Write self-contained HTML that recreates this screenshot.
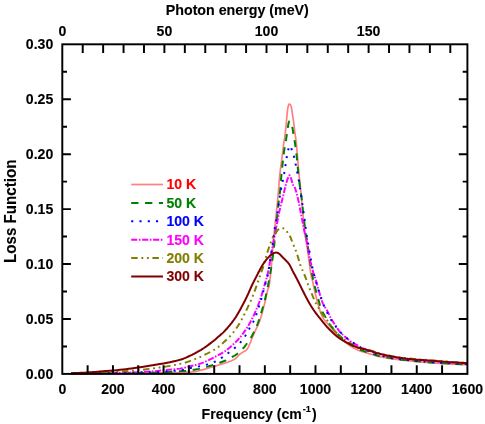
<!DOCTYPE html>
<html><head><meta charset="utf-8"><title>Loss Function</title>
<style>html,body{margin:0;padding:0;background:#fff;}svg{display:block;will-change:transform;}text{font-family:"Liberation Sans",sans-serif;font-weight:bold;fill:#000;stroke:#000;stroke-width:0.12px;}</style></head><body>
<svg width="485" height="424" viewBox="0 0 485 424">
<rect x="0" y="0" width="485" height="424" fill="#fff"/>
<g fill="none" stroke-linejoin="round">
<path d="M71.00 373.40 L80.06 373.36 L92.99 373.31 L108.10 373.26 L123.75 373.19 L138.27 373.10 L150.00 373.00 L159.05 372.89 L166.76 372.77 L173.35 372.64 L179.01 372.49 L183.96 372.31 L188.40 372.10 L191.99 371.86 L194.50 371.61 L196.30 371.32 L197.74 371.00 L199.19 370.63 L201.00 370.20 L203.13 369.69 L205.27 369.10 L207.43 368.46 L209.57 367.80 L211.70 367.14 L213.80 366.50 L215.91 365.88 L218.03 365.27 L220.14 364.66 L222.20 364.04 L224.16 363.42 L226.00 362.80 L227.72 362.18 L229.36 361.58 L230.91 360.97 L232.35 360.34 L233.69 359.69 L234.90 359.00 L235.96 358.23 L236.86 357.40 L237.64 356.53 L238.37 355.68 L239.07 354.89 L239.80 354.20 L240.56 353.62 L241.30 353.11 L242.03 352.67 L242.73 352.26 L243.39 351.88 L244.00 351.50 L244.55 351.18 L245.03 350.94 L245.48 350.73 L245.91 350.48 L246.34 350.12 L246.80 349.60 L247.27 348.91 L247.74 348.10 L248.22 347.19 L248.70 346.19 L249.19 345.12 L249.70 344.00 L250.23 342.79 L250.77 341.46 L251.32 340.06 L251.89 338.63 L252.45 337.23 L253.00 335.90 L253.56 334.60 L254.14 333.30 L254.72 332.02 L255.29 330.79 L255.82 329.64 L256.30 328.60 L256.71 327.73 L257.07 327.01 L257.40 326.38 L257.71 325.75 L258.04 325.05 L258.40 324.20 L258.78 323.26 L259.16 322.30 L259.55 321.27 L259.96 320.12 L260.41 318.78 L260.90 317.20 L261.45 315.32 L262.07 313.16 L262.71 310.81 L263.37 308.38 L264.00 305.94 L264.60 303.60 L265.17 301.22 L265.74 298.70 L266.29 296.18 L266.81 293.80 L267.29 291.69 L267.70 290.00 L268.03 288.92 L268.29 288.37 L268.50 288.11 L268.69 287.85 L268.88 287.33 L269.10 286.30 L269.35 284.69 L269.60 282.70 L269.86 280.46 L270.11 278.08 L270.36 275.69 L270.60 273.40 L270.82 271.30 L271.03 269.29 L271.24 267.27 L271.44 265.12 L271.66 262.74 L271.90 260.00 L272.16 256.76 L272.43 253.08 L272.72 249.16 L273.01 245.20 L273.31 241.41 L273.60 238.00 L273.89 235.03 L274.19 232.34 L274.49 229.83 L274.79 227.37 L275.09 224.83 L275.40 222.10 L275.72 219.13 L276.04 216.02 L276.38 212.83 L276.70 209.65 L277.01 206.55 L277.30 203.60 L277.57 200.81 L277.81 198.10 L278.05 195.48 L278.27 192.93 L278.49 190.44 L278.70 188.00 L278.89 185.70 L279.04 183.56 L279.19 181.48 L279.35 179.36 L279.54 177.10 L279.80 174.60 L280.13 171.75 L280.53 168.61 L280.97 165.33 L281.41 162.06 L281.83 158.93 L282.20 156.10 L282.52 153.52 L282.82 151.05 L283.09 148.73 L283.35 146.60 L283.58 144.68 L283.80 143.00 L283.99 141.72 L284.14 140.84 L284.27 140.17 L284.40 139.54 L284.53 138.74 L284.70 137.60 L284.90 136.09 L285.11 134.37 L285.34 132.49 L285.57 130.51 L285.79 128.49 L286.00 126.50 L286.20 124.45 L286.39 122.28 L286.57 120.07 L286.75 117.91 L286.92 115.89 L287.10 114.10 L287.27 112.52 L287.43 111.09 L287.59 109.79 L287.75 108.63 L287.92 107.60 L288.10 106.70 L288.29 105.92 L288.49 105.25 L288.70 104.72 L288.92 104.33 L289.15 104.08 L289.40 104.00 L289.68 104.08 L289.99 104.33 L290.31 104.72 L290.63 105.25 L290.93 105.92 L291.20 106.70 L291.43 107.65 L291.64 108.77 L291.83 110.03 L292.01 111.37 L292.20 112.74 L292.40 114.10 L292.61 115.45 L292.83 116.83 L293.05 118.24 L293.27 119.69 L293.49 121.18 L293.70 122.70 L293.91 124.29 L294.11 125.95 L294.31 127.64 L294.50 129.34 L294.70 131.00 L294.90 132.60 L295.10 134.10 L295.31 135.51 L295.51 136.90 L295.71 138.30 L295.91 139.75 L296.10 141.30 L296.27 142.83 L296.41 144.28 L296.56 145.78 L296.71 147.48 L296.88 149.50 L297.10 152.00 L297.37 155.18 L297.68 158.99 L298.02 163.13 L298.36 167.31 L298.70 171.23 L299.00 174.60 L299.27 177.34 L299.53 179.67 L299.77 181.74 L300.01 183.71 L300.25 185.75 L300.50 188.00 L300.75 190.42 L300.99 192.86 L301.23 195.36 L301.47 197.96 L301.73 200.70 L302.00 203.60 L302.29 206.79 L302.61 210.26 L302.93 213.87 L303.26 217.46 L303.58 220.89 L303.90 224.00 L304.20 226.77 L304.49 229.30 L304.78 231.67 L305.07 233.94 L305.38 236.20 L305.70 238.50 L306.05 240.83 L306.42 243.13 L306.80 245.41 L307.18 247.67 L307.55 249.93 L307.90 252.20 L308.23 254.51 L308.54 256.86 L308.84 259.20 L309.14 261.50 L309.42 263.71 L309.70 265.80 L309.97 267.81 L310.24 269.79 L310.49 271.68 L310.74 273.43 L310.98 274.99 L311.20 276.30 L311.39 277.21 L311.55 277.73 L311.69 278.06 L311.85 278.40 L312.05 278.95 L312.30 279.90 L312.62 281.30 L312.98 283.00 L313.38 284.90 L313.80 286.93 L314.24 288.99 L314.70 291.00 L315.18 293.02 L315.68 295.13 L316.21 297.27 L316.74 299.40 L317.28 301.46 L317.80 303.40 L318.32 305.24 L318.84 307.04 L319.37 308.77 L319.89 310.40 L320.40 311.92 L320.90 313.30 L321.36 314.49 L321.78 315.51 L322.19 316.41 L322.62 317.25 L323.12 318.09 L323.70 319.00 L324.39 319.96 L325.17 320.91 L326.01 321.87 L326.88 322.83 L327.75 323.81 L328.60 324.80 L329.41 325.80 L330.22 326.81 L331.02 327.84 L331.85 328.87 L332.70 329.93 L333.60 331.00 L334.55 332.12 L335.55 333.29 L336.57 334.48 L337.62 335.65 L338.66 336.77 L339.70 337.80 L340.73 338.73 L341.76 339.59 L342.79 340.40 L343.83 341.17 L344.87 341.93 L345.90 342.70 L346.93 343.48 L347.97 344.25 L349.00 345.01 L350.03 345.75 L351.07 346.45 L352.10 347.10 L353.13 347.70 L354.17 348.27 L355.20 348.79 L356.23 349.29 L357.27 349.76 L358.30 350.20 L359.33 350.61 L360.35 350.98 L361.37 351.33 L362.40 351.65 L363.44 351.97 L364.50 352.30 L365.59 352.63 L366.71 352.94 L367.85 353.25 L368.99 353.56 L370.11 353.87 L371.20 354.20 L372.26 354.55 L373.30 354.93 L374.33 355.31 L375.35 355.67 L376.37 356.01 L377.40 356.30 L378.43 356.53 L379.47 356.71 L380.51 356.86 L381.54 356.99 L382.57 357.13 L383.60 357.30 L384.62 357.49 L385.64 357.70 L386.65 357.91 L387.66 358.11 L388.68 358.32 L389.70 358.50 L390.73 358.67 L391.76 358.83 L392.79 358.98 L393.83 359.13 L394.87 359.27 L395.90 359.40 L396.93 359.53 L397.97 359.65 L399.00 359.77 L400.03 359.88 L401.07 359.99 L402.10 360.10 L403.13 360.20 L404.17 360.30 L405.20 360.40 L406.23 360.50 L407.27 360.60 L408.30 360.70 L409.26 360.81 L410.12 360.91 L410.98 361.02 L411.94 361.13 L413.08 361.26 L414.50 361.40 L416.27 361.56 L418.33 361.75 L420.57 361.94 L422.90 362.14 L425.21 362.33 L427.40 362.50 L429.48 362.65 L431.54 362.79 L433.58 362.92 L435.61 363.04 L437.65 363.17 L439.70 363.30 L441.73 363.44 L443.73 363.57 L445.74 363.71 L447.78 363.85 L449.89 363.98 L452.10 364.10 L454.61 364.22 L457.43 364.34 L460.33 364.45 L463.04 364.55 L465.35 364.64 L467.00 364.70" stroke="#FF8080" stroke-width="1.70"/>
<path d="M71.00 386.14 L80.16 386.09 L93.30 386.02 L108.62 385.94 L124.37 385.83 L138.75 385.69 L150.00 385.52 L158.09 385.29 L164.43 385.01 L169.41 384.69 L173.41 384.38 L176.82 384.10 L180.00 383.87 L182.60 383.72 L184.24 383.65 L185.29 383.60 L186.09 383.54 L187.01 383.43 L188.40 383.25 L190.25 382.98 L192.28 382.67 L194.43 382.31 L196.63 381.91 L198.84 381.46 L201.00 380.97 L203.13 380.43 L205.27 379.84 L207.43 379.20 L209.57 378.53 L211.70 377.84 L213.80 377.15 L215.94 376.42 L218.13 375.65 L220.30 374.86 L222.39 374.07 L224.31 373.31 L226.00 372.60 L227.43 371.93 L228.65 371.28 L229.71 370.66 L230.65 370.06 L231.53 369.50 L232.40 368.98 L233.21 368.52 L233.92 368.13 L234.56 367.78 L235.18 367.42 L235.81 367.00 L236.50 366.49 L237.25 365.87 L238.03 365.17 L238.82 364.41 L239.61 363.64 L240.38 362.87 L241.10 362.15 L241.77 361.49 L242.41 360.86 L243.02 360.24 L243.61 359.62 L244.21 358.95 L244.80 358.22 L245.39 357.42 L245.98 356.56 L246.56 355.67 L247.14 354.76 L247.72 353.84 L248.30 352.95 L248.89 352.08 L249.49 351.22 L250.09 350.36 L250.68 349.48 L251.25 348.59 L251.80 347.67 L252.32 346.71 L252.83 345.71 L253.31 344.69 L253.79 343.67 L254.25 342.66 L254.70 341.68 L255.13 340.76 L255.54 339.92 L255.94 339.10 L256.34 338.22 L256.75 337.24 L257.20 336.09 L257.67 334.81 L258.14 333.46 L258.64 331.99 L259.16 330.40 L259.71 328.63 L260.30 326.68 L260.96 324.46 L261.69 321.99 L262.45 319.35 L263.21 316.64 L263.94 313.95 L264.60 311.38 L265.19 308.90 L265.74 306.44 L266.26 304.01 L266.75 301.59 L267.23 299.19 L267.70 296.79 L268.17 294.42 L268.62 292.07 L269.06 289.74 L269.49 287.41 L269.90 285.07 L270.30 282.73 L270.68 280.36 L271.06 277.96 L271.41 275.56 L271.76 273.18 L272.08 270.84 L272.40 268.56 L272.70 266.34 L272.99 264.17 L273.27 262.03 L273.53 259.94 L273.77 257.87 L274.00 255.84 L274.19 253.89 L274.36 252.04 L274.50 250.23 L274.64 248.38 L274.81 246.45 L275.00 244.36 L275.23 242.15 L275.48 239.87 L275.74 237.50 L276.02 235.02 L276.31 232.42 L276.60 229.68 L276.90 226.69 L277.22 223.44 L277.54 220.07 L277.87 216.71 L278.19 213.49 L278.50 210.55 L278.81 207.87 L279.11 205.36 L279.42 202.99 L279.71 200.74 L279.97 198.58 L280.20 196.48 L280.38 194.55 L280.51 192.83 L280.61 191.19 L280.71 189.54 L280.84 187.75 L281.00 185.73 L281.21 183.41 L281.44 180.89 L281.70 178.23 L281.97 175.53 L282.24 172.86 L282.50 170.32 L282.76 167.82 L283.04 165.28 L283.31 162.78 L283.59 160.40 L283.85 158.20 L284.10 156.26 L284.34 154.62 L284.57 153.24 L284.80 152.04 L285.01 150.97 L285.22 149.95 L285.40 148.91 L285.55 148.00 L285.66 147.30 L285.76 146.65 L285.86 145.90 L286.00 144.91 L286.20 143.54 L286.47 141.58 L286.81 139.12 L287.17 136.43 L287.55 133.75 L287.90 131.34 L288.20 129.47 L288.44 128.14 L288.65 127.14 L288.84 126.41 L289.01 125.90 L289.20 125.56 L289.40 125.34 L289.62 125.26 L289.84 125.40 L290.08 125.70 L290.31 126.13 L290.55 126.64 L290.80 127.20 L291.06 127.82 L291.34 128.54 L291.62 129.34 L291.90 130.21 L292.17 131.12 L292.40 132.06 L292.60 133.03 L292.77 134.06 L292.93 135.13 L293.07 136.24 L293.23 137.35 L293.40 138.47 L293.58 139.50 L293.76 140.45 L293.94 141.42 L294.14 142.49 L294.36 143.79 L294.60 145.40 L294.88 147.37 L295.19 149.65 L295.52 152.13 L295.86 154.76 L296.19 157.43 L296.50 160.08 L296.78 162.76 L297.05 165.53 L297.31 168.36 L297.57 171.20 L297.83 174.01 L298.10 176.73 L298.39 179.48 L298.69 182.32 L299.00 185.12 L299.30 187.77 L299.57 190.15 L299.80 192.14 L299.98 193.60 L300.11 194.60 L300.22 195.32 L300.32 195.97 L300.44 196.74 L300.60 197.83 L300.80 199.22 L301.03 200.74 L301.27 202.39 L301.53 204.14 L301.77 205.97 L302.00 207.86 L302.20 209.82 L302.39 211.87 L302.57 213.99 L302.76 216.19 L302.96 218.46 L303.20 220.79 L303.49 223.28 L303.82 225.97 L304.17 228.73 L304.51 231.42 L304.83 233.92 L305.10 236.09 L305.31 237.93 L305.47 239.54 L305.61 240.96 L305.73 242.21 L305.86 243.34 L306.00 244.36 L306.15 245.09 L306.29 245.43 L306.43 245.65 L306.58 245.98 L306.77 246.68 L307.00 247.98 L307.29 250.06 L307.63 252.76 L307.99 255.81 L308.37 258.98 L308.75 262.00 L309.10 264.63 L309.44 266.90 L309.77 269.01 L310.11 270.99 L310.43 272.83 L310.73 274.57 L311.00 276.22 L311.24 277.73 L311.45 279.09 L311.64 280.34 L311.82 281.52 L312.00 282.69 L312.20 283.87 L312.40 285.01 L312.58 286.08 L312.77 287.12 L312.97 288.20 L313.21 289.37 L313.50 290.69 L313.85 292.22 L314.24 293.90 L314.68 295.68 L315.12 297.48 L315.57 299.26 L316.00 300.93 L316.42 302.50 L316.84 304.02 L317.26 305.51 L317.67 306.97 L318.09 308.44 L318.50 309.93 L318.89 311.44 L319.25 312.96 L319.61 314.49 L319.99 316.00 L320.41 317.48 L320.90 318.92 L321.47 320.31 L322.10 321.66 L322.78 322.98 L323.49 324.29 L324.20 325.58 L324.90 326.89 L325.60 328.22 L326.31 329.56 L327.02 330.91 L327.75 332.22 L328.47 333.47 L329.20 334.64 L329.92 335.71 L330.64 336.69 L331.36 337.61 L332.09 338.50 L332.84 339.40 L333.60 340.33 L334.38 341.30 L335.17 342.28 L335.98 343.27 L336.80 344.24 L337.64 345.20 L338.50 346.12 L339.39 347.01 L340.32 347.88 L341.26 348.73 L342.21 349.57 L343.16 350.38 L344.10 351.19 L345.00 351.98 L345.87 352.75 L346.73 353.50 L347.62 354.25 L348.57 354.99 L349.60 355.74 L350.74 356.50 L351.96 357.28 L353.23 358.05 L354.53 358.80 L355.83 359.52 L357.10 360.19 L358.35 360.81 L359.62 361.40 L360.88 361.95 L362.13 362.47 L363.34 362.95 L364.50 363.39 L365.60 363.77 L366.64 364.09 L367.64 364.37 L368.64 364.64 L369.65 364.92 L370.70 365.25 L371.79 365.65 L372.91 366.08 L374.05 366.53 L375.19 366.98 L376.31 367.39 L377.40 367.74 L378.39 368.00 L379.28 368.20 L380.15 368.37 L381.10 368.53 L382.22 368.72 L383.60 368.98 L385.30 369.31 L387.24 369.69 L389.36 370.10 L391.57 370.52 L393.77 370.91 L395.90 371.25 L397.88 371.54 L399.78 371.78 L401.68 372.00 L403.67 372.22 L405.84 372.44 L408.30 372.70 L411.03 372.99 L413.96 373.30 L417.08 373.62 L420.37 373.94 L423.82 374.26 L427.40 374.56 L431.31 374.86 L435.58 375.17 L440.01 375.47 L444.39 375.75 L448.49 376.00 L452.10 376.22 L455.32 376.39 L458.34 376.52 L461.09 376.63 L463.50 376.71 L465.49 376.78 L467.00 376.84" stroke="#008000" stroke-width="2.00" stroke-dasharray="7.3 6.55" stroke-dashoffset="2.82" transform="scale(1 0.9670)"/>
<path d="M71.00 386.14 L76.55 386.08 L84.41 386.01 L93.62 385.92 L103.26 385.81 L112.37 385.67 L120.00 385.52 L126.29 385.34 L132.01 385.12 L137.21 384.89 L141.91 384.65 L146.16 384.40 L150.00 384.18 L153.20 383.97 L155.68 383.78 L157.71 383.58 L159.54 383.39 L161.45 383.17 L163.70 382.94 L166.36 382.68 L169.23 382.40 L172.18 382.10 L175.06 381.80 L177.71 381.49 L180.00 381.18 L181.81 380.88 L183.23 380.59 L184.43 380.30 L185.58 379.98 L186.85 379.63 L188.40 379.21 L190.25 378.76 L192.28 378.28 L194.43 377.77 L196.63 377.19 L198.84 376.54 L201.00 375.80 L203.14 374.94 L205.31 373.98 L207.49 372.94 L209.64 371.86 L211.76 370.77 L213.80 369.70 L215.80 368.64 L217.78 367.56 L219.71 366.47 L221.58 365.38 L223.35 364.28 L225.00 363.19 L226.50 362.10 L227.87 361.03 L229.14 359.96 L230.36 358.87 L231.56 357.74 L232.80 356.57 L234.08 355.33 L235.37 354.04 L236.64 352.71 L237.89 351.37 L239.08 350.03 L240.20 348.71 L241.25 347.39 L242.24 346.06 L243.17 344.73 L244.06 343.43 L244.90 342.16 L245.70 340.95 L246.43 339.83 L247.10 338.78 L247.71 337.76 L248.30 336.76 L248.89 335.73 L249.50 334.64 L250.14 333.47 L250.79 332.25 L251.43 330.99 L252.06 329.74 L252.65 328.54 L253.20 327.40 L253.68 326.36 L254.12 325.39 L254.52 324.46 L254.90 323.54 L255.29 322.60 L255.70 321.61 L256.11 320.64 L256.51 319.71 L256.92 318.76 L257.34 317.74 L257.80 316.57 L258.30 315.20 L258.88 313.55 L259.53 311.66 L260.21 309.62 L260.89 307.55 L261.53 305.55 L262.10 303.72 L262.58 302.11 L263.00 300.65 L263.39 299.26 L263.76 297.86 L264.16 296.37 L264.60 294.73 L265.10 292.93 L265.64 291.03 L266.20 289.05 L266.76 287.00 L267.30 284.89 L267.80 282.73 L268.26 280.48 L268.70 278.11 L269.12 275.69 L269.52 273.26 L269.91 270.87 L270.30 268.56 L270.67 266.34 L271.03 264.14 L271.38 261.99 L271.72 259.88 L272.06 257.83 L272.40 255.84 L272.73 253.99 L273.04 252.28 L273.35 250.63 L273.67 248.94 L274.02 247.13 L274.40 245.09 L274.84 242.76 L275.32 240.20 L275.82 237.51 L276.34 234.80 L276.84 232.15 L277.30 229.68 L277.72 227.39 L278.11 225.21 L278.49 223.10 L278.87 221.03 L279.27 218.96 L279.70 216.86 L280.18 214.72 L280.70 212.57 L281.23 210.43 L281.77 208.30 L282.30 206.20 L282.80 204.14 L283.28 202.07 L283.74 199.99 L284.20 197.94 L284.64 195.95 L285.08 194.07 L285.50 192.35 L285.91 190.76 L286.32 189.27 L286.71 187.89 L287.09 186.63 L287.46 185.49 L287.80 184.49 L288.12 183.60 L288.42 182.80 L288.70 182.14 L288.97 181.62 L289.24 181.29 L289.50 181.18 L289.76 181.31 L290.00 181.68 L290.24 182.23 L290.49 182.92 L290.73 183.69 L291.00 184.49 L291.28 185.41 L291.58 186.51 L291.88 187.69 L292.19 188.86 L292.50 189.93 L292.80 190.80 L293.08 191.35 L293.35 191.63 L293.62 191.81 L293.90 192.05 L294.22 192.52 L294.60 193.38 L295.05 194.68 L295.56 196.29 L296.11 198.13 L296.66 200.10 L297.20 202.14 L297.70 204.14 L298.15 206.14 L298.58 208.23 L298.99 210.37 L299.40 212.54 L299.80 214.71 L300.20 216.86 L300.61 219.02 L301.03 221.22 L301.44 223.42 L301.84 225.59 L302.23 227.69 L302.60 229.68 L302.96 231.62 L303.31 233.55 L303.64 235.41 L303.96 237.14 L304.25 238.66 L304.50 239.92 L304.69 240.72 L304.81 241.09 L304.91 241.26 L305.02 241.46 L305.17 241.93 L305.40 242.92 L305.73 244.50 L306.14 246.51 L306.59 248.80 L307.06 251.20 L307.51 253.57 L307.90 255.74 L308.24 257.77 L308.55 259.81 L308.84 261.80 L309.12 263.73 L309.40 265.54 L309.70 267.22 L310.01 268.72 L310.33 270.08 L310.66 271.33 L310.98 272.52 L311.29 273.68 L311.60 274.87 L311.89 276.07 L312.17 277.25 L312.44 278.41 L312.71 279.55 L313.00 280.68 L313.30 281.80 L313.62 282.84 L313.93 283.79 L314.26 284.72 L314.61 285.72 L314.99 286.86 L315.40 288.21 L315.86 289.85 L316.36 291.71 L316.89 293.71 L317.44 295.77 L317.98 297.79 L318.50 299.69 L319.02 301.52 L319.54 303.37 L320.06 305.18 L320.56 306.91 L321.05 308.51 L321.50 309.93 L321.90 311.11 L322.24 312.07 L322.56 312.91 L322.89 313.69 L323.26 314.50 L323.70 315.41 L324.23 316.41 L324.82 317.43 L325.46 318.48 L326.11 319.56 L326.77 320.67 L327.40 321.82 L328.01 323.03 L328.61 324.30 L329.21 325.61 L329.82 326.92 L330.45 328.22 L331.10 329.47 L331.78 330.69 L332.49 331.89 L333.21 333.07 L333.94 334.23 L334.68 335.38 L335.40 336.50 L336.11 337.62 L336.81 338.74 L337.51 339.83 L338.21 340.90 L338.94 341.93 L339.70 342.92 L340.48 343.84 L341.27 344.70 L342.08 345.53 L342.92 346.34 L343.79 347.15 L344.70 347.98 L345.66 348.85 L346.68 349.75 L347.73 350.65 L348.79 351.53 L349.85 352.37 L350.90 353.15 L351.92 353.87 L352.92 354.53 L353.92 355.15 L354.94 355.75 L356.00 356.36 L357.10 356.98 L358.27 357.63 L359.51 358.31 L360.78 358.98 L362.06 359.63 L363.30 360.25 L364.50 360.81 L365.56 361.28 L366.51 361.68 L367.43 362.04 L368.41 362.40 L369.57 362.81 L371.00 363.29 L372.68 363.87 L374.53 364.51 L376.56 365.20 L378.74 365.89 L381.09 366.58 L383.60 367.22 L386.25 367.83 L389.06 368.43 L392.02 369.02 L395.16 369.59 L398.48 370.13 L402.00 370.63 L405.78 371.09 L409.84 371.52 L414.09 371.91 L418.42 372.29 L422.76 372.65 L427.00 373.01 L431.28 373.37 L435.70 373.74 L440.12 374.09 L444.41 374.42 L448.41 374.72 L452.00 374.97 L455.25 375.19 L458.30 375.36 L461.06 375.51 L463.48 375.63 L465.48 375.72 L467.00 375.80" stroke="#FF00FF" stroke-width="2.00" stroke-dasharray="6.1 1.6 1.6 1.65" stroke-dashoffset="3.60" transform="scale(1 0.9670)"/>
<path d="M71.00 386.14 L80.16 386.03 L93.30 385.89 L108.62 385.71 L124.37 385.50 L138.75 385.27 L150.00 385.01 L158.09 384.70 L164.43 384.35 L169.41 383.96 L173.41 383.57 L176.82 383.19 L180.00 382.83 L182.60 382.51 L184.24 382.22 L185.29 381.93 L186.09 381.63 L187.01 381.32 L188.40 380.97 L190.25 380.60 L192.28 380.21 L194.43 379.80 L196.63 379.37 L198.84 378.90 L201.00 378.39 L203.13 377.87 L205.27 377.35 L207.43 376.80 L209.57 376.17 L211.70 375.44 L213.80 374.56 L215.85 373.54 L217.87 372.40 L219.86 371.16 L221.87 369.81 L223.90 368.36 L226.00 366.80 L228.23 365.11 L230.58 363.25 L232.97 361.29 L235.30 359.28 L237.47 357.28 L239.40 355.33 L241.09 353.37 L242.62 351.34 L243.99 349.32 L245.23 347.37 L246.32 345.56 L247.30 343.95 L248.09 342.59 L248.67 341.44 L249.11 340.43 L249.50 339.48 L249.90 338.54 L250.40 337.54 L250.99 336.50 L251.62 335.48 L252.27 334.47 L252.91 333.44 L253.53 332.36 L254.10 331.23 L254.62 330.03 L255.11 328.77 L255.57 327.48 L256.02 326.15 L256.46 324.81 L256.90 323.47 L257.33 322.13 L257.76 320.76 L258.17 319.37 L258.58 317.98 L258.99 316.59 L259.40 315.20 L259.82 313.82 L260.25 312.45 L260.68 311.07 L261.10 309.69 L261.51 308.31 L261.90 306.93 L262.27 305.53 L262.63 304.11 L262.98 302.70 L263.32 301.29 L263.66 299.90 L264.00 298.55 L264.34 297.27 L264.67 296.05 L264.99 294.86 L265.32 293.64 L265.66 292.37 L266.00 291.00 L266.33 289.70 L266.65 288.54 L266.97 287.32 L267.33 285.85 L267.73 283.93 L268.20 281.39 L268.79 277.84 L269.50 273.39 L270.26 268.49 L271.01 263.62 L271.67 259.25 L272.20 255.84 L272.57 253.54 L272.82 251.99 L273.00 250.94 L273.13 250.12 L273.26 249.29 L273.40 248.19 L273.53 246.95 L273.62 245.81 L273.70 244.65 L273.80 243.36 L273.96 241.82 L274.20 239.92 L274.57 237.46 L275.04 234.52 L275.57 231.33 L276.10 228.12 L276.60 225.15 L277.00 222.65 L277.30 220.66 L277.55 219.01 L277.75 217.59 L277.93 216.29 L278.11 215.01 L278.30 213.65 L278.50 212.23 L278.70 210.85 L278.90 209.49 L279.10 208.13 L279.30 206.77 L279.50 205.38 L279.71 203.96 L279.91 202.54 L280.12 201.10 L280.33 199.66 L280.56 198.22 L280.80 196.79 L281.06 195.37 L281.34 193.96 L281.63 192.54 L281.93 191.13 L282.22 189.72 L282.50 188.31 L282.78 186.91 L283.05 185.51 L283.32 184.11 L283.59 182.72 L283.85 181.33 L284.10 179.94 L284.34 178.55 L284.56 177.18 L284.77 175.80 L284.99 174.43 L285.19 173.05 L285.40 171.66 L285.60 170.27 L285.79 168.87 L285.98 167.47 L286.17 166.07 L286.38 164.67 L286.60 163.29 L286.84 161.87 L287.10 160.41 L287.37 158.96 L287.64 157.56 L287.92 156.26 L288.20 155.12 L288.48 154.07 L288.76 153.07 L289.05 152.18 L289.34 151.44 L289.62 150.92 L289.90 150.67 L290.16 150.72 L290.41 151.02 L290.65 151.54 L290.90 152.24 L291.18 153.06 L291.50 153.98 L291.87 155.04 L292.29 156.28 L292.73 157.66 L293.18 159.11 L293.61 160.59 L294.00 162.05 L294.36 163.50 L294.69 165.01 L295.01 166.55 L295.32 168.08 L295.61 169.59 L295.90 171.04 L296.17 172.44 L296.43 173.79 L296.67 175.11 L296.91 176.43 L297.15 177.75 L297.40 179.11 L297.67 180.50 L297.94 181.91 L298.22 183.34 L298.49 184.76 L298.76 186.18 L299.00 187.59 L299.22 188.98 L299.43 190.36 L299.62 191.74 L299.81 193.11 L300.00 194.49 L300.20 195.86 L300.40 197.24 L300.60 198.60 L300.80 199.97 L301.00 201.34 L301.20 202.73 L301.40 204.14 L301.60 205.57 L301.80 207.02 L301.99 208.48 L302.19 209.95 L302.39 211.44 L302.60 212.93 L302.81 214.43 L303.03 215.97 L303.25 217.51 L303.47 219.04 L303.69 220.55 L303.90 222.03 L304.11 223.45 L304.32 224.85 L304.52 226.22 L304.73 227.57 L304.92 228.93 L305.10 230.30 L305.26 231.68 L305.41 233.06 L305.54 234.44 L305.68 235.82 L305.83 237.20 L306.00 238.57 L306.19 239.93 L306.40 241.27 L306.61 242.61 L306.84 243.96 L307.07 245.33 L307.30 246.74 L307.54 248.20 L307.79 249.71 L308.05 251.23 L308.31 252.76 L308.56 254.27 L308.80 255.74 L309.03 257.16 L309.24 258.55 L309.45 259.91 L309.66 261.27 L309.87 262.64 L310.10 264.01 L310.34 265.40 L310.58 266.80 L310.83 268.19 L311.09 269.59 L311.34 270.99 L311.60 272.39 L311.85 273.79 L312.10 275.19 L312.36 276.60 L312.62 278.00 L312.90 279.39 L313.20 280.77 L313.53 282.12 L313.88 283.45 L314.25 284.77 L314.63 286.09 L315.01 287.44 L315.40 288.83 L315.79 290.28 L316.18 291.78 L316.58 293.30 L316.99 294.81 L317.39 296.30 L317.80 297.72 L318.21 299.08 L318.63 300.40 L319.04 301.68 L319.46 302.95 L319.88 304.21 L320.30 305.48 L320.71 306.77 L321.12 308.07 L321.53 309.36 L321.94 310.64 L322.36 311.90 L322.80 313.13 L323.23 314.29 L323.64 315.36 L324.07 316.41 L324.53 317.50 L325.07 318.70 L325.70 320.06 L326.45 321.64 L327.29 323.40 L328.19 325.26 L329.15 327.15 L330.12 328.99 L331.10 330.71 L332.10 332.35 L333.16 333.95 L334.23 335.52 L335.30 337.01 L336.33 338.42 L337.30 339.71 L338.19 340.88 L339.03 341.93 L339.82 342.89 L340.61 343.79 L341.39 344.65 L342.20 345.50 L343.03 346.33 L343.86 347.11 L344.70 347.85 L345.54 348.56 L346.37 349.26 L347.20 349.95 L347.94 350.58 L348.56 351.13 L349.19 351.66 L349.91 352.24 L350.85 352.92 L352.10 353.77 L353.66 354.84 L355.43 356.06 L357.41 357.40 L359.59 358.78 L361.96 360.14 L364.50 361.43 L367.30 362.68 L370.40 363.95 L373.68 365.21 L377.04 366.41 L380.38 367.51 L383.60 368.46 L386.63 369.24 L389.53 369.87 L392.41 370.40 L395.37 370.87 L398.54 371.31 L402.00 371.77 L405.84 372.23 L409.97 372.65 L414.31 373.05 L418.73 373.43 L423.13 373.80 L427.40 374.15 L431.67 374.49 L436.05 374.82 L440.41 375.13 L444.62 375.42 L448.56 375.68 L452.10 375.90 L455.32 376.09 L458.34 376.25 L461.09 376.38 L463.50 376.48 L465.49 376.56 L467.00 376.63" stroke="#0000FF" stroke-width="2.00" stroke-dasharray="2.1 6.17" stroke-dashoffset="4.87" transform="scale(1 0.9670)"/>
<path d="M71.00 386.04 L74.26 385.95 L78.85 385.83 L84.25 385.69 L89.93 385.53 L95.35 385.37 L100.00 385.21 L103.88 385.05 L107.41 384.89 L110.69 384.72 L113.81 384.55 L116.89 384.36 L120.00 384.18 L123.03 384.01 L125.86 383.86 L128.64 383.71 L131.50 383.53 L134.58 383.28 L138.00 382.94 L141.95 382.48 L146.34 381.92 L150.96 381.30 L155.54 380.65 L159.87 380.01 L163.70 379.42 L167.05 378.87 L170.12 378.33 L172.93 377.80 L175.50 377.28 L177.85 376.79 L180.00 376.32 L181.81 375.91 L183.23 375.58 L184.43 375.26 L185.58 374.91 L186.85 374.49 L188.40 373.94 L190.25 373.26 L192.28 372.48 L194.43 371.63 L196.63 370.72 L198.84 369.76 L201.00 368.77 L203.20 367.70 L205.50 366.54 L207.80 365.32 L210.01 364.12 L212.05 362.98 L213.80 361.94 L215.23 361.04 L216.41 360.22 L217.40 359.46 L218.28 358.74 L219.12 358.02 L220.00 357.29 L220.88 356.55 L221.70 355.84 L222.48 355.13 L223.24 354.42 L224.01 353.70 L224.80 352.95 L225.61 352.18 L226.42 351.42 L227.24 350.63 L228.06 349.83 L228.88 348.98 L229.70 348.09 L230.52 347.16 L231.34 346.21 L232.16 345.22 L232.99 344.18 L233.83 343.08 L234.70 341.88 L235.61 340.58 L236.57 339.17 L237.54 337.69 L238.51 336.18 L239.43 334.67 L240.30 333.20 L241.10 331.74 L241.85 330.27 L242.57 328.81 L243.26 327.35 L243.93 325.91 L244.60 324.51 L245.26 323.13 L245.90 321.76 L246.53 320.41 L247.13 319.09 L247.73 317.80 L248.30 316.55 L248.86 315.34 L249.40 314.18 L249.93 313.05 L250.43 311.94 L250.93 310.83 L251.40 309.72 L251.85 308.61 L252.27 307.53 L252.68 306.44 L253.08 305.35 L253.48 304.24 L253.90 303.10 L254.31 301.97 L254.71 300.87 L255.11 299.75 L255.53 298.56 L255.99 297.25 L256.50 295.76 L257.08 294.02 L257.73 292.06 L258.42 289.97 L259.11 287.86 L259.78 285.83 L260.40 283.97 L260.96 282.34 L261.49 280.86 L262.00 279.45 L262.50 278.05 L262.99 276.58 L263.50 274.97 L264.02 273.18 L264.53 271.26 L265.05 269.27 L265.57 267.28 L266.08 265.33 L266.60 263.50 L267.12 261.77 L267.63 260.10 L268.15 258.49 L268.67 256.92 L269.18 255.38 L269.70 253.88 L270.24 252.34 L270.80 250.76 L271.36 249.22 L271.89 247.79 L272.38 246.56 L272.80 245.60 L273.12 245.04 L273.35 244.81 L273.54 244.78 L273.71 244.80 L273.92 244.71 L274.20 244.36 L274.55 243.72 L274.93 242.88 L275.35 241.94 L275.79 240.97 L276.24 240.07 L276.70 239.30 L277.17 238.65 L277.66 238.05 L278.16 237.51 L278.67 237.03 L279.19 236.62 L279.70 236.30 L280.21 236.05 L280.73 235.87 L281.24 235.77 L281.76 235.73 L282.28 235.77 L282.80 235.88 L283.32 236.08 L283.86 236.36 L284.39 236.71 L284.91 237.11 L285.42 237.57 L285.90 238.06 L286.36 238.60 L286.80 239.23 L287.23 239.90 L287.63 240.59 L288.02 241.26 L288.40 241.88 L288.74 242.40 L289.04 242.84 L289.32 243.25 L289.61 243.72 L289.93 244.31 L290.30 245.09 L290.72 246.07 L291.16 247.21 L291.64 248.46 L292.14 249.81 L292.66 251.21 L293.20 252.64 L293.78 254.11 L294.40 255.67 L295.05 257.28 L295.70 258.93 L296.32 260.60 L296.90 262.25 L297.43 263.95 L297.94 265.72 L298.42 267.50 L298.89 269.24 L299.34 270.89 L299.80 272.39 L300.24 273.71 L300.67 274.88 L301.09 275.96 L301.51 277.00 L301.94 278.07 L302.40 279.21 L302.89 280.43 L303.40 281.65 L303.92 282.90 L304.45 284.19 L304.98 285.50 L305.50 286.87 L306.02 288.30 L306.53 289.82 L307.05 291.37 L307.57 292.91 L308.08 294.43 L308.60 295.86 L309.12 297.22 L309.64 298.51 L310.16 299.77 L310.67 301.01 L311.19 302.26 L311.70 303.52 L312.20 304.80 L312.68 306.09 L313.16 307.37 L313.64 308.66 L314.15 309.92 L314.70 311.17 L315.29 312.40 L315.91 313.61 L316.55 314.81 L317.20 316.00 L317.86 317.16 L318.50 318.30 L319.12 319.41 L319.72 320.48 L320.32 321.54 L320.94 322.58 L321.59 323.64 L322.30 324.72 L323.08 325.81 L323.91 326.90 L324.78 328.00 L325.67 329.12 L326.55 330.26 L327.40 331.44 L328.23 332.68 L329.04 333.99 L329.86 335.32 L330.67 336.64 L331.48 337.91 L332.30 339.09 L333.13 340.18 L333.96 341.21 L334.80 342.19 L335.64 343.12 L336.47 344.02 L337.30 344.88 L338.11 345.70 L338.91 346.47 L339.70 347.21 L340.50 347.92 L341.33 348.62 L342.20 349.33 L343.06 350.01 L343.90 350.66 L344.76 351.31 L345.70 351.97 L346.76 352.68 L348.00 353.46 L349.43 354.37 L351.00 355.39 L352.71 356.46 L354.51 357.51 L356.38 358.50 L358.30 359.36 L360.31 360.07 L362.43 360.67 L364.62 361.20 L366.84 361.70 L369.05 362.21 L371.20 362.77 L373.23 363.38 L375.14 364.00 L377.05 364.63 L379.03 365.26 L381.19 365.89 L383.60 366.49 L386.25 367.09 L389.06 367.69 L392.04 368.28 L395.20 368.86 L398.55 369.40 L402.10 369.91 L405.93 370.37 L410.05 370.79 L414.36 371.19 L418.76 371.56 L423.14 371.92 L427.40 372.29 L431.66 372.65 L436.04 373.01 L440.40 373.36 L444.61 373.69 L448.56 373.99 L452.10 374.25 L455.32 374.46 L458.34 374.64 L461.09 374.79 L463.50 374.91 L465.49 375.00 L467.00 375.08" stroke="#808000" stroke-width="2.00" stroke-dasharray="6.5 3.65 1.9 3.65 1.9 3.6" stroke-dashoffset="12.63" transform="scale(1 0.9670)"/>
<path d="M71.00 373.20 L72.78 373.13 L75.26 373.03 L78.19 372.91 L81.30 372.78 L84.32 372.64 L87.00 372.50 L89.26 372.36 L91.30 372.21 L93.25 372.06 L95.26 371.90 L97.46 371.71 L100.00 371.50 L102.95 371.26 L106.22 371.01 L109.69 370.73 L113.22 370.44 L116.70 370.13 L120.00 369.80 L123.03 369.47 L125.86 369.14 L128.64 368.80 L131.50 368.42 L134.58 367.99 L138.00 367.50 L141.95 366.92 L146.34 366.25 L150.96 365.53 L155.54 364.80 L159.87 364.08 L163.70 363.40 L167.05 362.77 L170.12 362.15 L172.93 361.55 L175.50 360.96 L177.85 360.38 L180.00 359.80 L181.87 359.24 L183.43 358.69 L184.76 358.15 L185.97 357.61 L187.16 357.06 L188.40 356.50 L189.67 355.93 L190.88 355.37 L192.06 354.80 L193.23 354.21 L194.44 353.58 L195.70 352.90 L197.01 352.18 L198.35 351.44 L199.72 350.66 L201.11 349.84 L202.54 348.95 L204.00 348.00 L205.57 346.91 L207.25 345.69 L208.97 344.41 L210.63 343.14 L212.13 341.98 L213.40 341.00 L214.35 340.25 L215.05 339.68 L215.60 339.21 L216.10 338.76 L216.67 338.25 L217.40 337.60 L218.31 336.82 L219.31 335.97 L220.37 335.06 L221.46 334.11 L222.55 333.12 L223.60 332.10 L224.64 331.04 L225.68 329.92 L226.72 328.77 L227.75 327.60 L228.75 326.44 L229.70 325.30 L230.61 324.18 L231.50 323.06 L232.35 321.94 L233.17 320.84 L233.95 319.76 L234.70 318.70 L235.39 317.69 L236.03 316.71 L236.63 315.76 L237.21 314.81 L237.80 313.83 L238.40 312.80 L239.02 311.72 L239.64 310.60 L240.26 309.45 L240.88 308.29 L241.49 307.14 L242.10 306.00 L242.71 304.86 L243.31 303.71 L243.92 302.57 L244.51 301.44 L245.07 300.35 L245.60 299.30 L246.09 298.31 L246.55 297.36 L246.98 296.44 L247.40 295.55 L247.80 294.67 L248.20 293.80 L248.59 292.94 L248.96 292.09 L249.33 291.26 L249.68 290.43 L250.04 289.62 L250.40 288.80 L250.75 288.01 L251.09 287.26 L251.42 286.52 L251.77 285.75 L252.16 284.92 L252.60 284.00 L253.10 282.99 L253.64 281.91 L254.22 280.77 L254.83 279.58 L255.46 278.36 L256.10 277.10 L256.77 275.78 L257.47 274.39 L258.20 272.96 L258.94 271.52 L259.67 270.12 L260.40 268.80 L261.12 267.54 L261.83 266.30 L262.54 265.11 L263.26 263.95 L263.98 262.85 L264.70 261.80 L265.44 260.80 L266.19 259.85 L266.94 258.95 L267.68 258.10 L268.41 257.32 L269.10 256.60 L269.76 255.95 L270.41 255.36 L271.03 254.84 L271.64 254.37 L272.23 253.96 L272.80 253.60 L273.35 253.29 L273.88 253.04 L274.39 252.85 L274.89 252.71 L275.39 252.63 L275.90 252.60 L276.41 252.62 L276.91 252.69 L277.41 252.81 L277.92 252.99 L278.45 253.25 L279.00 253.60 L279.58 254.06 L280.19 254.63 L280.81 255.28 L281.44 255.97 L282.08 256.65 L282.70 257.30 L283.32 257.92 L283.96 258.53 L284.59 259.15 L285.21 259.77 L285.82 260.38 L286.40 261.00 L286.95 261.59 L287.48 262.14 L287.99 262.69 L288.49 263.28 L288.99 263.94 L289.50 264.70 L290.01 265.58 L290.51 266.56 L291.01 267.61 L291.52 268.70 L292.05 269.80 L292.60 270.90 L293.17 271.97 L293.75 273.02 L294.34 274.09 L294.96 275.20 L295.61 276.40 L296.30 277.70 L297.03 279.13 L297.81 280.68 L298.62 282.31 L299.44 283.97 L300.28 285.65 L301.10 287.30 L301.92 288.95 L302.76 290.62 L303.59 292.31 L304.43 293.98 L305.27 295.62 L306.10 297.20 L306.92 298.73 L307.74 300.24 L308.55 301.71 L309.36 303.14 L310.18 304.54 L311.00 305.90 L311.83 307.22 L312.65 308.50 L313.48 309.74 L314.31 310.95 L315.15 312.13 L316.00 313.30 L316.84 314.42 L317.68 315.50 L318.52 316.54 L319.39 317.59 L320.27 318.67 L321.20 319.80 L322.18 321.01 L323.19 322.27 L324.24 323.57 L325.30 324.86 L326.36 326.11 L327.40 327.30 L328.43 328.42 L329.47 329.51 L330.51 330.56 L331.54 331.58 L332.57 332.56 L333.60 333.50 L334.62 334.41 L335.64 335.27 L336.65 336.11 L337.66 336.90 L338.68 337.67 L339.70 338.40 L340.73 339.09 L341.76 339.74 L342.79 340.36 L343.83 340.96 L344.87 341.53 L345.90 342.10 L346.93 342.66 L347.97 343.20 L349.00 343.73 L350.03 344.23 L351.07 344.73 L352.10 345.20 L353.13 345.66 L354.17 346.11 L355.20 346.54 L356.23 346.96 L357.27 347.34 L358.30 347.70 L359.33 348.02 L360.35 348.29 L361.37 348.54 L362.40 348.79 L363.44 349.03 L364.50 349.30 L365.59 349.58 L366.71 349.87 L367.85 350.17 L368.99 350.47 L370.11 350.78 L371.20 351.10 L372.26 351.44 L373.30 351.80 L374.33 352.16 L375.35 352.53 L376.37 352.88 L377.40 353.20 L378.43 353.50 L379.47 353.79 L380.51 354.06 L381.54 354.31 L382.57 354.56 L383.60 354.80 L384.62 355.02 L385.64 355.23 L386.65 355.43 L387.66 355.61 L388.68 355.80 L389.70 356.00 L390.73 356.20 L391.76 356.41 L392.79 356.62 L393.83 356.82 L394.87 357.02 L395.90 357.20 L396.93 357.37 L397.97 357.53 L399.00 357.68 L400.03 357.82 L401.07 357.96 L402.10 358.10 L403.13 358.24 L404.17 358.38 L405.20 358.52 L406.23 358.65 L407.27 358.78 L408.30 358.90 L409.26 359.01 L410.12 359.10 L410.98 359.19 L411.94 359.29 L413.08 359.38 L414.50 359.50 L416.27 359.63 L418.33 359.78 L420.57 359.93 L422.90 360.09 L425.21 360.25 L427.40 360.40 L429.48 360.55 L431.54 360.70 L433.58 360.84 L435.61 360.99 L437.65 361.14 L439.70 361.30 L441.73 361.46 L443.73 361.63 L445.74 361.81 L447.78 361.98 L449.89 362.14 L452.10 362.30 L454.61 362.45 L457.43 362.61 L460.33 362.76 L463.04 362.90 L465.35 363.02 L467.00 363.10" stroke="#800000" stroke-width="2.00"/>
</g>
<g stroke="#000" stroke-width="1.95" fill="none" stroke-linecap="butt">
<rect x="62.30" y="44.30" width="405.10" height="329.60"/>
<path d="M87.62 373.90 V365.30M112.94 373.90 V365.30M138.26 373.90 V365.30M163.57 373.90 V365.30M188.89 373.90 V365.30M214.21 373.90 V365.30M239.53 373.90 V365.30M264.85 373.90 V365.30M290.17 373.90 V365.30M315.49 373.90 V365.30M340.81 373.90 V365.30M366.12 373.90 V365.30M391.44 373.90 V365.30M416.76 373.90 V365.30M442.08 373.90 V365.30M82.72 44.30 V53.00M103.14 44.30 V53.00M123.56 44.30 V53.00M143.98 44.30 V53.00M164.40 44.30 V53.00M184.83 44.30 V53.00M205.25 44.30 V53.00M225.67 44.30 V53.00M246.09 44.30 V53.00M266.51 44.30 V53.00M286.93 44.30 V53.00M307.35 44.30 V53.00M327.77 44.30 V53.00M348.19 44.30 V53.00M368.61 44.30 V53.00M389.03 44.30 V53.00M409.45 44.30 V53.00M429.88 44.30 V53.00M450.30 44.30 V53.00M62.30 346.43 H67.00M467.40 346.43 H462.70M62.30 318.97 H70.90M467.40 318.97 H458.80M62.30 291.50 H67.00M467.40 291.50 H462.70M62.30 264.03 H70.90M467.40 264.03 H458.80M62.30 236.57 H67.00M467.40 236.57 H462.70M62.30 209.10 H70.90M467.40 209.10 H458.80M62.30 181.63 H67.00M467.40 181.63 H462.70M62.30 154.17 H70.90M467.40 154.17 H458.80M62.30 126.70 H67.00M467.40 126.70 H462.70M62.30 99.23 H70.90M467.40 99.23 H458.80M62.30 71.77 H67.00M467.40 71.77 H462.70"/>
</g>
<g font-size="14.10">
<text transform="translate(62.30 394.00) scale(1 1.060)" text-anchor="middle">0</text>
<text transform="translate(112.94 394.00) scale(1 1.060)" text-anchor="middle">200</text>
<text transform="translate(163.57 394.00) scale(1 1.060)" text-anchor="middle">400</text>
<text transform="translate(214.21 394.00) scale(1 1.060)" text-anchor="middle">600</text>
<text transform="translate(264.85 394.00) scale(1 1.060)" text-anchor="middle">800</text>
<text transform="translate(315.49 394.00) scale(1 1.060)" text-anchor="middle">1000</text>
<text transform="translate(366.12 394.00) scale(1 1.060)" text-anchor="middle">1200</text>
<text transform="translate(416.76 394.00) scale(1 1.060)" text-anchor="middle">1400</text>
<text transform="translate(467.40 394.00) scale(1 1.060)" text-anchor="middle">1600</text>
<text transform="translate(62.30 36.00) scale(1 1.060)" text-anchor="middle">0</text>
<text transform="translate(164.40 36.00) scale(1 1.060)" text-anchor="middle">50</text>
<text transform="translate(266.51 36.00) scale(1 1.060)" text-anchor="middle">100</text>
<text transform="translate(368.61 36.00) scale(1 1.060)" text-anchor="middle">150</text>
<text transform="translate(53.30 378.55) scale(1 1.060)" text-anchor="end">0.00</text>
<text transform="translate(53.30 323.62) scale(1 1.060)" text-anchor="end">0.05</text>
<text transform="translate(53.30 268.68) scale(1 1.060)" text-anchor="end">0.10</text>
<text transform="translate(53.30 213.75) scale(1 1.060)" text-anchor="end">0.15</text>
<text transform="translate(53.30 158.82) scale(1 1.060)" text-anchor="end">0.20</text>
<text transform="translate(53.30 103.88) scale(1 1.060)" text-anchor="end">0.25</text>
<text transform="translate(53.30 48.95) scale(1 1.060)" text-anchor="end">0.30</text>
</g>
<text transform="translate(237.30 14.70) scale(1 1.040)" text-anchor="middle" font-size="14.25">Photon energy (meV)</text>
<text font-size="15.15" transform="translate(15.6 211.3) rotate(-90) scale(1 1.045)" text-anchor="middle">Loss Function</text>
<text transform="translate(201.60 419.30) scale(1 1.060)" font-size="14.10">Frequency (cm</text><text transform="translate(302.80 411.60) scale(1 1.060)" font-size="9.20">-1</text><text transform="translate(312.00 419.30) scale(1 1.060)" font-size="14.10">)</text>
<g font-size="14.10">
<path d="M131.2 184.50 H163" fill="none" stroke="#FF8080" stroke-width="1.70"/>
<text transform="translate(166.40 189.45) scale(1 1.070)" style="fill:#FF0000;stroke:#FF0000">10 K</text>
<path d="M131.2 202.90 H163" fill="none" stroke="#008000" stroke-width="2.00" stroke-dasharray="7.3 6.55"/>
<text transform="translate(166.40 207.85) scale(1 1.070)" style="fill:#008000;stroke:#008000">50 K</text>
<path d="M131.2 221.30 H163" fill="none" stroke="#0000FF" stroke-width="2.00" stroke-dasharray="2.1 6.17"/>
<text transform="translate(166.40 226.25) scale(1 1.070)" style="fill:#0000FF;stroke:#0000FF">100 K</text>
<path d="M131.2 239.70 H163" fill="none" stroke="#FF00FF" stroke-width="2.00" stroke-dasharray="6.1 1.6 1.6 1.65"/>
<text transform="translate(166.40 244.65) scale(1 1.070)" style="fill:#FF00FF;stroke:#FF00FF">150 K</text>
<path d="M131.2 258.10 H163" fill="none" stroke="#808000" stroke-width="2.00" stroke-dasharray="6.5 3.65 1.9 3.65 1.9 3.6"/>
<text transform="translate(166.40 263.05) scale(1 1.070)" style="fill:#808000;stroke:#808000">200 K</text>
<path d="M131.2 276.50 H163" fill="none" stroke="#800000" stroke-width="2.00"/>
<text transform="translate(166.40 281.45) scale(1 1.070)" style="fill:#800000;stroke:#800000">300 K</text>
</g>
</svg></body></html>
